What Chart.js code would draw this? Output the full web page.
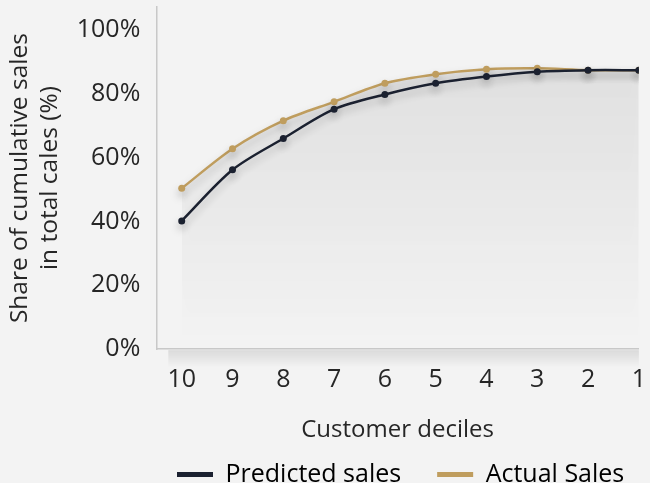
<!DOCTYPE html>
<html>
<head>
<meta charset="utf-8">
<script src="https://cdn.jsdelivr.net/npm/chart.js@4/dist/chart.umd.min.js"></script>
<style>
  html, body { margin: 0; padding: 0; background: #f3f3f3; overflow: hidden; width: 650px; height: 483px; }
  #wrap { position: absolute; left: 0; top: -16px; width: 654px; height: 513px; }
</style>
</head>
<body>
<div id="wrap"><canvas id="myChart"></canvas></div>
<script>
// customer deciles, from 10 down to 1
const deciles = [10, 9, 8, 7, 6, 5, 4, 3, 2, 1];
const predictedSales = [40.2, 56.2, 66, 75.2, 79.8, 83.3, 85.4, 86.9, 87.4, 87.4];
const actualSales = [50.4, 62.8, 71.6, 77.5, 83.3, 86.1, 87.7, 88, 87.4, 87.4];
const yTicks = [0, 20, 40, 60, 80, 100];

const navy = "#1b2130";
const gold = "#bf9d5e";
const fontFamily = "'Open Sans', 'DejaVu Sans', sans-serif";
const textColor = "#262626";

// soft shadow under the lines and under the x axis
const shadowPlugin = {
    id: "shadows",
    afterLayout(chart) {
        // legend sits right of centre in the original
        chart.legend.left = 167;
        chart.legend.right = 2000;
    },
    beforeDatasetsDraw(chart) {
        const ctx = chart.ctx;
        const area = chart.chartArea;
        ctx.save();
        const g = ctx.createLinearGradient(0, area.bottom + 1, 0, area.bottom + 18);
        g.addColorStop(0, "rgba(0,0,0,0.10)");
        g.addColorStop(1, "rgba(0,0,0,0)");
        ctx.fillStyle = g;
        ctx.fillRect(area.left + 12, area.bottom + 1, area.right - area.left - 12, 17);
        ctx.restore();
        ctx.save();
        ctx.shadowColor = "rgba(0,0,0,0.25)";
        ctx.shadowBlur = 8;
        ctx.shadowOffsetY = 5;
    },
    afterDatasetsDraw(chart) {
        chart.ctx.restore();
    }
};

const ctx = document.getElementById("myChart").getContext("2d");
const under = ctx.createLinearGradient(0, 90, 0, 360);
under.addColorStop(0, "rgba(0,0,0,0.06)");
under.addColorStop(1, "rgba(0,0,0,0)");

const chart = new Chart(ctx, {
    type: "line",
    data: {
        datasets: [{
            label: "Predicted sales",
            data: deciles.map((d, i) => ({x: d, y: predictedSales[i]})),
            borderColor: navy,
            backgroundColor: navy,
            borderWidth: 2.5,
            pointRadius: 3.5,
            pointBackgroundColor: navy,
            pointBorderWidth: 0,
            tension: 0.3,
            fill: false
        }, {
            label: "Actual Sales",
            data: deciles.map((d, i) => ({x: d, y: actualSales[i]})),
            borderColor: gold,
            backgroundColor: gold,
            borderWidth: 2.5,
            pointRadius: 3.5,
            pointBackgroundColor: gold,
            pointBorderWidth: 0,
            tension: 0.3,
            fill: {target: "origin", above: under}
        }]
    },
    options: {
        responsive: true,
        maintainAspectRatio: false,
        animation: false,
        layout: {padding: {left: 5, right: 0, top: 0, bottom: 0}},
        plugins: {
            legend: {
                position: "bottom",
                align: "start",
                labels: {
                    font: {family: fontFamily, size: 25},
                    color: textColor,
                    boxWidth: 36,
                    boxHeight: 5,
                    padding: 10,
                    generateLabels(c) {
                        return c.data.datasets.map((ds, i) => ({
                            // extra gap after the first entry
                            text: i === 0 ? ds.label + "\u00a0\u00a0\u00a0\u00a0" : ds.label,
                            fillStyle: ds.borderColor,
                            strokeStyle: ds.borderColor,
                            lineWidth: 0,
                            datasetIndex: i
                        }));
                    }
                }
            },
            tooltip: {enabled: false}
        },
        scales: {
            x: {
                type: "linear",
                reverse: true,
                min: 1,
                max: 10.5,
                grid: {display: false},
                border: {display: true, dash: [4, 3], color: "#c8c8c8", width: 1.5},
                afterBuildTicks: axis => { axis.ticks = deciles.map(v => ({value: v})); },
                ticks: {
                    font: {family: fontFamily, size: 25},
                    color: textColor,
                    padding: 8,
                    maxRotation: 0
                },
                title: {
                    display: true,
                    text: "Customer deciles",
                    font: {family: fontFamily, size: 24},
                    color: textColor,
                    padding: {top: 13, bottom: 7}
                }
            },
            y: {
                min: 0,
                max: 107.2,
                grid: {display: false},
                border: {display: true, dash: [4, 3], color: "#c8c8c8", width: 1.5},
                afterBuildTicks: axis => { axis.ticks = yTicks.map(v => ({value: v})); },
                ticks: {
                    font: {family: fontFamily, size: 25},
                    color: textColor,
                    padding: 8,
                    callback: v => v + "%"
                },
                title: {
                    display: true,
                    text: ["Share of cumulative sales", "in total cales (%)"],
                    font: {family: fontFamily, size: 24.5, lineHeight: 1.22},
                    color: textColor,
                    padding: {top: 0, bottom: 4}
                }
            }
        }
    },
    plugins: [shadowPlugin]
});
</script>
</body>
</html>
